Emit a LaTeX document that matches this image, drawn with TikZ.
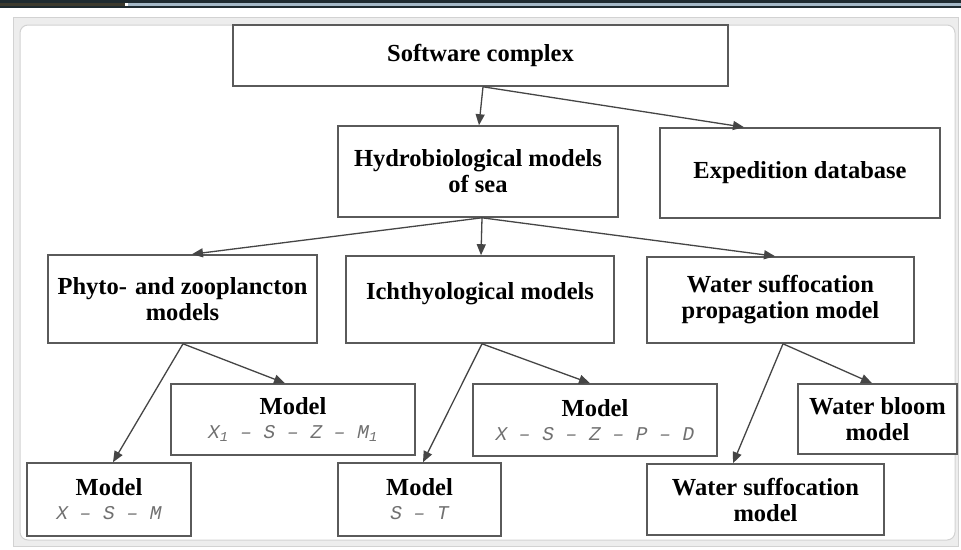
\documentclass[tikz,border=0pt]{standalone}
\usepackage{fontspec}
\setmainfont{Liberation Serif}
\newfontfamily\formfont{Liberation Mono}
\usetikzlibrary{arrows.meta}
\definecolor{topdark}{HTML}{1F2B30}
\definecolor{topolive}{HTML}{3C3A2E}
\definecolor{topsteel}{HTML}{A4B8C6}
\definecolor{panelband}{HTML}{EDEDED}
\definecolor{panelline}{HTML}{D2D2D2}
\definecolor{boxline}{HTML}{5A5A5A}
\definecolor{arrowline}{HTML}{454545}
\definecolor{formgray}{HTML}{707070}
\tikzset{
  box/.style={draw=boxline, line width=1.6pt, fill=white, inner sep=0pt, align=center,
    font=\bfseries\fontsize{24.5}{26}\selectfont},
  modelbox/.style={box, font=\bfseries\fontsize{24.5}{24}\selectfont},
  conn/.style={draw=arrowline, line width=1.3pt, -{Triangle[length=11pt,width=9pt]}},
}
\newcommand{\frm}[1]{{\formfont\itshape\mdseries\fontsize{19.5}{22}\selectfont\color{formgray}#1}}
\begin{document}
\begin{tikzpicture}[x=1pt,y=-1pt]
\useasboundingbox (0,0) rectangle (961,549);
% top bar
\fill[topdark] (0,0) rectangle (961,8);
\fill[topolive] (0,2.5) rectangle (125,5.5);
\fill[white] (125,2.5) rectangle (128,5.5);
\fill[topsteel] (128,2.5) rectangle (961,5.5);
% panel
\filldraw[fill=panelband, draw=panelline, line width=1pt] (13,17) rectangle (958,546);
\filldraw[fill=white, draw=panelline, line width=1pt, rounded corners=8pt] (20,25) rectangle (955,540);
% boxes
\node[box, minimum width=495, minimum height=61] (sw) at (480.5,55.5) {Software complex};
\node[box, minimum width=280, minimum height=91] (hyd) at (478,171.5) {Hydrobiological models\\of sea};
\node[box, minimum width=280, minimum height=90] (exp) at (800,173) {Expedition database};
\node[box, minimum width=269, minimum height=88] (phy) at (182.5,299) {Phyto-\,\,and zooplancton\\models};
\node[box, minimum width=268, minimum height=87] (ich) at (480,299.5) {\raisebox{6pt}[\height][\depth]{Ichthyological models}};
\node[box, minimum width=267, minimum height=86] (wsp) at (780.5,300) {Water suffocation\\propagation model};
\node[modelbox, minimum width=244, minimum height=71] (xz) at (293,419.5) {Model\\\frm{X\textsubscript{1} – S – Z – M\textsubscript{1}}};
\node[modelbox, minimum width=164, minimum height=73] (xsm) at (109,499.5) {Model\\\frm{X – S – M}};
\node[modelbox, minimum width=163, minimum height=73] (st) at (419.5,499.5) {Model\\\frm{S – T}};
\node[modelbox, minimum width=244, minimum height=72] (xp) at (595,420) {Model\\\frm{X – S – Z – P – D}};
\node[box, minimum width=159, minimum height=70] (wb) at (877.5,419) {Water bloom\\model};
\node[box, minimum width=237, minimum height=71] (ws) at (765.5,499.5) {Water suffocation\\model};
% connectors
\draw[conn] ([xshift=2.5pt]sw.south) -- ([xshift=1pt]hyd.north);
\draw[conn] ([xshift=2.5pt]sw.south) -- ([xshift=-56pt]exp.north);
\draw[conn] ([xshift=4pt]hyd.south) -- ([xshift=9.5pt]phy.north);
\draw[conn] ([xshift=4pt]hyd.south) -- ([xshift=1pt]ich.north);
\draw[conn] ([xshift=4pt]hyd.south) -- ([xshift=-5.5pt]wsp.north);
\draw[conn] ([xshift=0.5pt]phy.south) -- ([xshift=4pt]xsm.north);
\draw[conn] ([xshift=0.5pt]phy.south) -- ([xshift=-8pt]xz.north);
\draw[conn] ([xshift=2pt]ich.south) -- ([xshift=3.5pt]st.north);
\draw[conn] ([xshift=2pt]ich.south) -- ([xshift=-5pt]xp.north);
\draw[conn] ([xshift=2.5pt]wsp.south) -- ([xshift=-32.5pt]ws.north);
\draw[conn] ([xshift=2.5pt]wsp.south) -- ([xshift=-5.5pt]wb.north);
\end{tikzpicture}
\end{document}
